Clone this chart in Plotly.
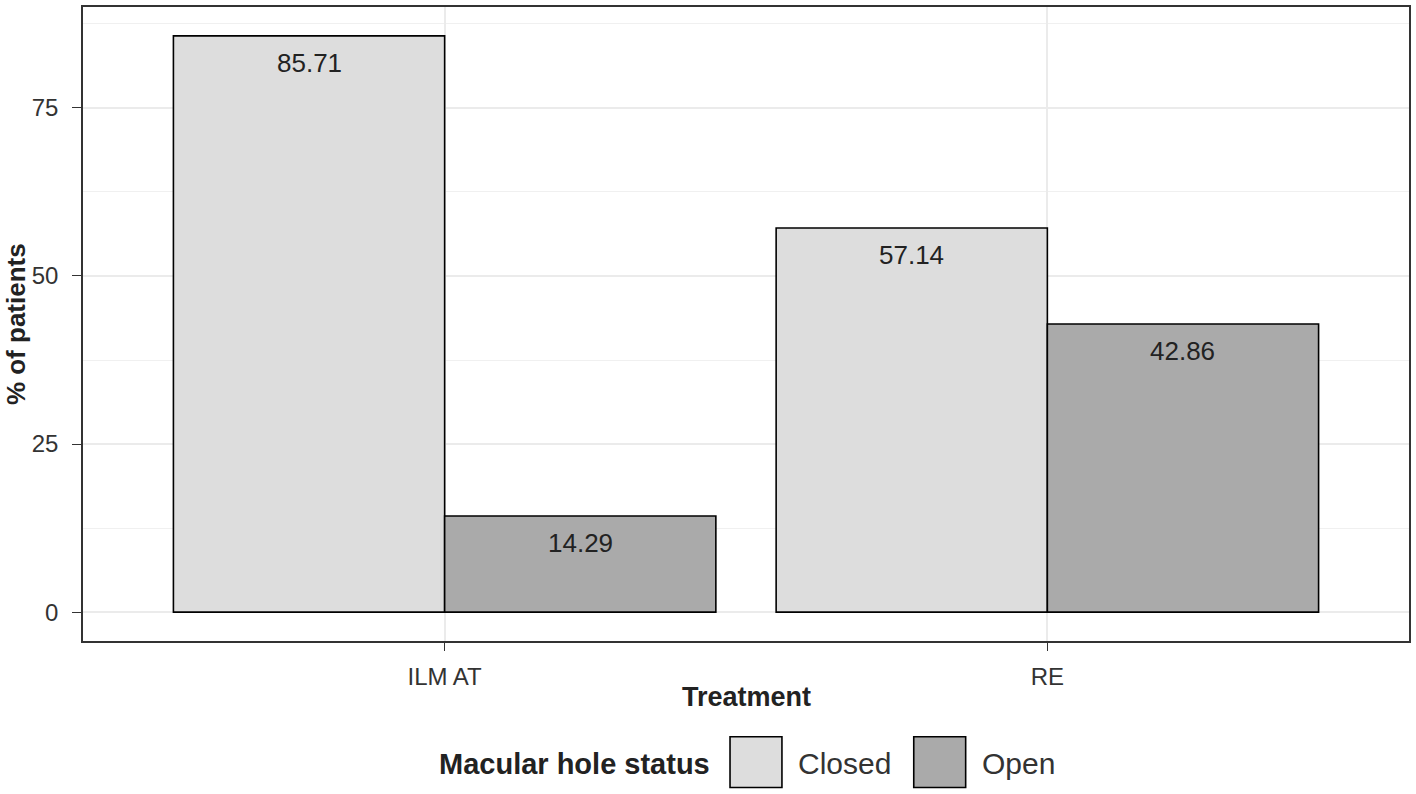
import plotly.graph_objects as go

treatments = ["ILM AT", "RE"]
statuses = ["Closed", "Open"]
closed_pct = [85.71, 57.14]
open_pct = [14.29, 42.86]
y_ticks = [0, 25, 50, 75]
y_minor = [12.5, 37.5, 62.5, 87.5]

colors = {"Closed": "#DDDDDD", "Open": "#AAAAAA"}
values = {"Closed": closed_pct, "Open": open_pct}

W, H = 1416, 794
L, R, T, B = 83, 1411, 5, 641  # panel in pixels
FONT = "Liberation Sans, Arial, sans-serif"


def px(x):
    return (x - L) / (R - L)


def py(y):
    return (B - y) / (B - T)


fig = go.Figure()
for s in statuses:
    fig.add_trace(
        go.Bar(
            x=treatments,
            y=values[s],
            name=s,
            offsetgroup=s,
            marker=dict(color=colors[s], line=dict(color="black", width=1.6)),
            showlegend=False,
        )
    )

# value labels just inside the top of each bar
offsets = {"Closed": -0.225, "Open": 0.225}
annotations = []
for s in statuses:
    for i, v in enumerate(values[s]):
        annotations.append(
            dict(
                x=i + offsets[s], y=v, xref="x", yref="y",
                text=f"{v:.2f}", showarrow=False, yshift=-27,
                xanchor="center", yanchor="middle",
                font=dict(family=FONT, size=26, color="#222222"),
            )
        )

# axis titles
annotations.append(dict(
    x=0.5, y=py(697), xref="paper", yref="paper", text="<b>Treatment</b>",
    xanchor="center", yanchor="middle",
    showarrow=False, font=dict(family=FONT, size=27, color="#222222"),
))
annotations.append(dict(
    x=px(16), y=0.5, xref="paper", yref="paper", text="<b>% of patients</b>",
    xanchor="center", yanchor="middle",
    textangle=-90, showarrow=False, font=dict(family=FONT, size=26, color="#222222"),
))

# legend drawn by hand (keys larger than plotly's bar swatches)
annotations.append(dict(
    x=px(713), y=py(764), xref="paper", yref="paper", xanchor="right", yanchor="middle",
    text="<b>Macular hole status</b>", showarrow=False,
    font=dict(family=FONT, size=29, color="#222222"),
))
shapes = []
key_x = [731, 915]
for s, kx in zip(statuses, key_x):
    shapes.append(dict(
        type="rect", xref="paper", yref="paper",
        x0=px(kx), x1=px(kx + 52), y0=py(788), y1=py(737),
        fillcolor=colors[s], line=dict(color="black", width=1.6),
    ))
    annotations.append(dict(
        x=px(kx + 66), y=py(764), xref="paper", yref="paper", xanchor="left", yanchor="middle",
        text=s, showarrow=False, font=dict(family=FONT, size=30, color="#333333"),
    ))

fig.update_layout(
    width=W, height=H,
    margin=dict(l=L, r=W - R, t=T, b=H - B),
    paper_bgcolor="white", plot_bgcolor="white",
    barmode="group", bargap=0.1, bargroupgap=0,
    annotations=annotations, shapes=shapes,
    font=dict(family=FONT),
)
fig.update_xaxes(
    range=[-0.6, 1.6],
    showgrid=True, gridcolor="#EBEBEB", gridwidth=1.5,
    showline=True, mirror=True, linecolor="#333333", linewidth=1.6,
    ticks="outside", ticklen=8, tickcolor="#333333", tickwidth=1.2,
    tickfont=dict(family=FONT, size=24, color="#333333"),
    ticklabelstandoff=5,
    zeroline=False,
)
fig.update_yaxes(
    range=[-4.29, 90.0],
    tickvals=y_ticks,
    showgrid=True, gridcolor="#EBEBEB", gridwidth=1.5,
    minor=dict(tickvals=y_minor, showgrid=True, gridcolor="#F0F0F0", gridwidth=1.2, ticks=""),
    showline=True, mirror=True, linecolor="#333333", linewidth=1.6,
    ticks="outside", ticklen=9, tickcolor="#333333", tickwidth=1.2,
    tickfont=dict(family=FONT, size=24, color="#333333"),
    ticklabelstandoff=9,
    zeroline=False,
)

fig.write_html(
    "out.html",
    config={"displayModeBar": False},
    post_script="document.body.style.margin = '0';",
)
